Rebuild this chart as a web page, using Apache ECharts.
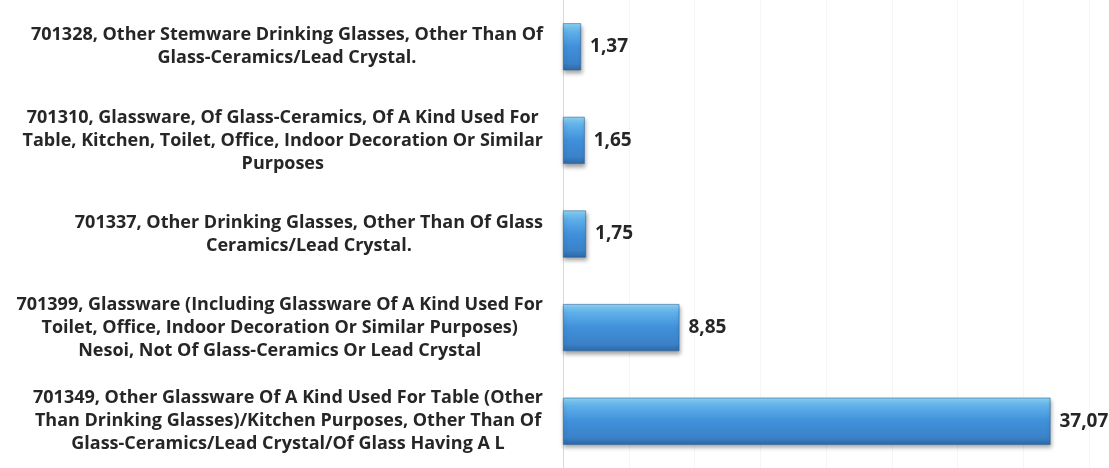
<!DOCTYPE html>
<html>
<head>
<meta charset="utf-8">
<script src="https://cdn.jsdelivr.net/npm/echarts@6/dist/echarts.min.js"></script>
<style>
html,body{margin:0;padding:0;background:#fff;}
#chart{width:1109px;height:468px;}
</style>
</head>
<body>
<div id="chart"></div>
<script>
var categories = [
  "701328, Other Stemware Drinking Glasses, Other Than Of\nGlass-Ceramics/Lead Crystal.",
  "701310, Glassware, Of Glass-Ceramics, Of A Kind Used For\nTable, Kitchen, Toilet, Office, Indoor Decoration Or Similar\nPurposes",
  "701337, Other Drinking Glasses, Other Than Of Glass\nCeramics/Lead Crystal.",
  "701399, Glassware (Including Glassware Of A Kind Used For\nToilet, Office, Indoor Decoration Or Similar Purposes)\nNesoi, Not Of Glass-Ceramics Or Lead Crystal",
  "701349, Other Glassware Of A Kind Used For Table (Other\nThan Drinking Glasses)/Kitchen Purposes, Other Than Of\nGlass-Ceramics/Lead Crystal/Of Glass Having A L"
];
var values = [1.37, 1.65, 1.75, 8.85, 37.07];

var FONT = '"Open Sans"';
var chart = echarts.init(document.getElementById('chart'), null, {renderer: 'canvas'});
chart.setOption({
  animation: false,
  backgroundColor: '#ffffff',
  grid: {left: 563, right: 20, top: -10.5, bottom: -16.5, containLabel: false},
  xAxis: {
    type: 'value', min: 0, max: 40, interval: 5,
    axisLabel: {show: false}, axisTick: {show: false}, axisLine: {show: false},
    splitLine: {show: true, lineStyle: {color: '#f5f5f5', width: 1}}
  },
  yAxis: {
    type: 'category', inverse: true, data: categories,
    axisTick: {show: false},
    axisLine: {show: true, lineStyle: {color: '#d9d9d9', width: 1}},
    axisLabel: {
      interval: 0, margin: 20,
      formatter: function (v) {
        return v.split('\n').map(function (l) { return '{c|' + l + '}'; }).join('\n');
      },
      rich: {
        c: {align: 'center', fontFamily: FONT, fontWeight: 'bold', fontSize: 18, lineHeight: 23, color: '#262626'}
      }
    }
  },
  series: [{
    type: 'bar', data: values, barWidth: 47,
    itemStyle: {
      color: new echarts.graphic.LinearGradient(0, 0, 0, 1, [
        {offset: 0, color: '#8fd8f8'},
        {offset: 0.18, color: '#5fb0ea'},
        {offset: 0.5, color: '#4090db'},
        {offset: 0.85, color: '#3a82c8'},
        {offset: 1, color: '#2e68a6'}
      ]),
      borderColor: '#2f649c', borderWidth: 0.6,
      shadowColor: 'rgba(0,0,0,0.35)', shadowBlur: 4, shadowOffsetX: 1, shadowOffsetY: 3
    },
    label: {
      show: true, position: 'right', distance: 9,
      fontFamily: FONT, fontWeight: 'bold', fontSize: 19, color: '#262626',
      formatter: function (p) { return p.value.toFixed(2).replace('.', ','); }
    }
  }]
});
</script>
</body>
</html>
